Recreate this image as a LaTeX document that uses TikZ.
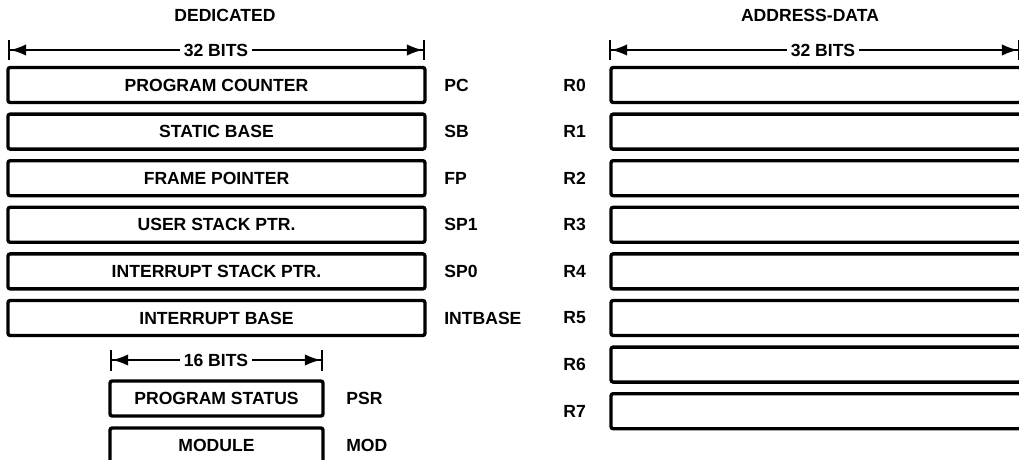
\documentclass[tikz,border=0pt]{standalone}
\usepackage{fontspec}
\setmainfont{Liberation Sans}
\usetikzlibrary{arrows.meta}

\begin{document}
\begin{tikzpicture}[x=0.02cm,y=-0.02cm,
  font=\fontsize{10}{12}\selectfont\bfseries,
  reg/.style={draw,line width=1.9pt,rounded corners=1.2pt,minimum width=8.34cm,minimum height=0.7cm,inner sep=0pt},
  regr/.style={reg,minimum width=8.2cm},
  half/.style={reg,minimum width=4.26cm},
  lab/.style={anchor=west,inner sep=0pt},
  dim/.style={inner sep=2pt},
  dimline/.style={line width=1pt,-{Latex[length=9pt,width=6.5pt]Bar[width=0.42cm,line width=1.3pt]}}]

\useasboundingbox (0,0) rectangle (1019,460);
\clip (0,0) rectangle (1019,460);

% titles
\node (tded) at (225,15) {DEDICATED};
\node (tadr) at (810,15) {ADDRESS-DATA};

% widths
\coordinate (dl) at (8,50);
\coordinate (dr) at (425,50);
\node[dim] (dbits) at (216,50) {32 BITS};
\draw[dimline] (dbits) -- (dl);
\draw[dimline] (dbits) -- (dr);

\coordinate (al) at (609,50);
\coordinate (ar) at (1020,50);
\node[dim] (abits) at (823,50) {32 BITS};
\draw[dimline] (abits) -- (al);
\draw[dimline] (abits) -- (ar);

\coordinate (hl) at (110,360);
\coordinate (hr) at (323,360);
\node[dim] (hbits) at (216,360) {16 BITS};
\draw[dimline] (hbits) -- (hl);
\draw[dimline] (hbits) -- (hr);

% dedicated registers
\node[reg] (pc) at (216.5,85) {PROGRAM COUNTER};
\node[reg] (sb) at (216.5,131.6) {STATIC BASE};
\node[reg] (fp) at (216.5,178.2) {FRAME POINTER};
\node[reg] (sp1) at (216.5,224.8) {USER STACK PTR.};
\node[reg] (sp0) at (216.5,271.4) {INTERRUPT STACK PTR.};
\node[reg] (intb) at (216.5,318) {INTERRUPT BASE};
\node[lab] (lpc) at (444,85) {PC};
\node[lab] (lsb) at (444,131.6) {SB};
\node[lab] (lfp) at (444,178.2) {FP};
\node[lab] (lsp1) at (444,224.8) {SP1};
\node[lab] (lsp0) at (444,271.4) {SP0};
\node[lab] (lintb) at (444,318) {INTBASE};

% 16 bit registers
\node[half] (psr) at (216.5,398.5) {PROGRAM STATUS};
\node[half] (mod) at (216.5,445.5) {MODULE};
\node[lab] (lpsr) at (346,398.5) {PSR};
\node[lab] (lmod) at (346,445.5) {MOD};

% general registers
\node[regr] (r0) at (816,85) {};
\node[regr] (r1) at (816,131.6) {};
\node[regr] (r2) at (816,178.2) {};
\node[regr] (r3) at (816,224.8) {};
\node[regr] (r4) at (816,271.4) {};
\node[regr] (r5) at (816,318) {};
\node[regr] (r6) at (816,364.6) {};
\node[regr] (r7) at (816,411.2) {};
\node[lab] (lr0) at (563,85) {R0};
\node[lab] (lr1) at (563,131.6) {R1};
\node[lab] (lr2) at (563,178.2) {R2};
\node[lab] (lr3) at (563,224.8) {R3};
\node[lab] (lr4) at (563,271.4) {R4};
\node[lab] (lr5) at (563,318) {R5};
\node[lab] (lr6) at (563,364.6) {R6};
\node[lab] (lr7) at (563,411.2) {R7};
\end{tikzpicture}
\end{document}
